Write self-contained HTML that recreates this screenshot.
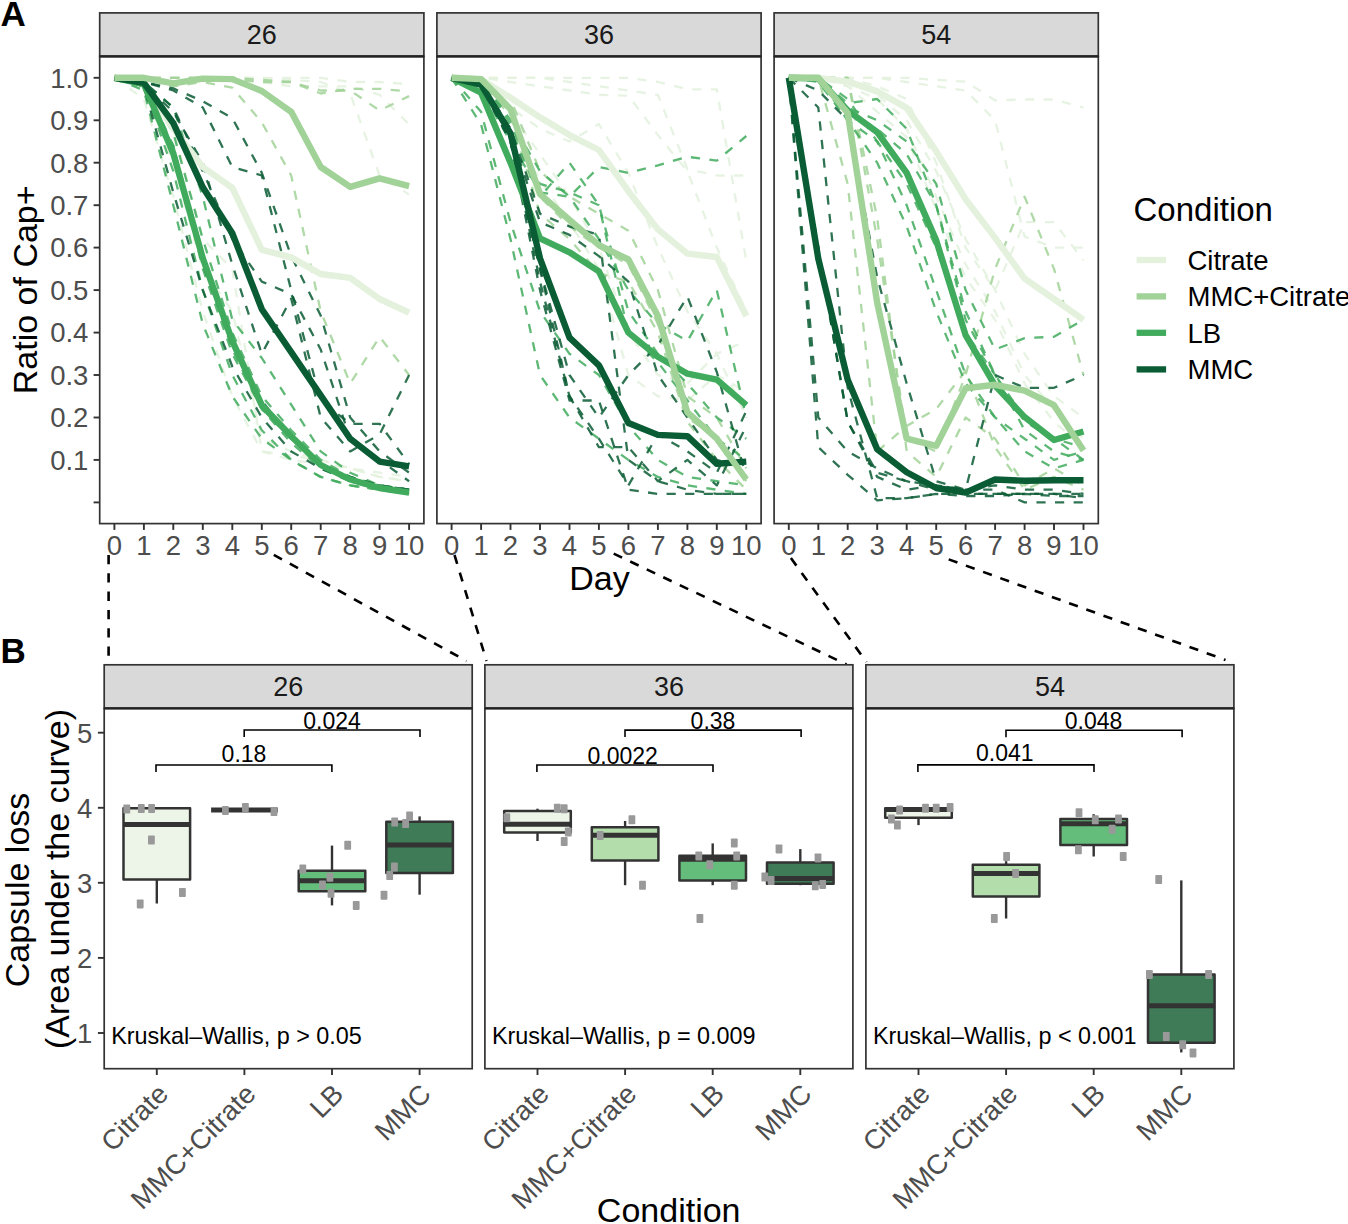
<!DOCTYPE html>
<html><head><meta charset="utf-8"><style>
html,body{margin:0;padding:0;background:#fff;}
svg{display:block;font-family:"Liberation Sans", sans-serif;}
</style></head><body>
<svg width="1348" height="1224" viewBox="0 0 1348 1224">
<rect width="1348" height="1224" fill="#fff"/>
<rect x="99.7" y="12.9" width="324.2" height="43.5" fill="#D9D9D9" stroke="#333" stroke-width="1.7"/>
<text x="261.8" y="44.3" font-size="27" text-anchor="middle" fill="#1A1A1A">26</text>
<clipPath id="ca0"><rect x="99.7" y="56.4" width="324.2" height="467.2"/></clipPath>
<g clip-path="url(#ca0)" fill="none" stroke-linejoin="round">
<polyline points="114.4,77.8 143.9,77.8 173.3,77.8 202.8,77.8 232.3,77.8 261.8,77.8 291.2,77.8 320.7,77.8 350.2,82.0 379.6,82.0 409.1,84.2" stroke="#E3F1DD" stroke-width="2.3" stroke-opacity="0.85" stroke-dasharray="9.2 9.4"/>
<polyline points="114.4,77.8 143.9,77.8 173.3,77.8 202.8,77.8 232.3,77.8 261.8,77.8 291.2,79.9 320.7,82.0 350.2,93.5 379.6,175.5 409.1,194.6" stroke="#E3F1DD" stroke-width="2.3" stroke-opacity="0.85" stroke-dasharray="9.2 9.4"/>
<polyline points="114.4,77.8 143.9,77.8 173.3,77.8 202.8,77.8 232.3,77.8 261.8,82.0 291.2,86.3 320.7,86.3 350.2,86.3 379.6,94.8 409.1,124.5" stroke="#E3F1DD" stroke-width="2.3" stroke-opacity="0.85" stroke-dasharray="9.2 9.4"/>
<polyline points="114.4,77.8 143.9,99.0 173.3,196.7 202.8,311.3 232.3,396.2 261.8,451.4 291.2,459.9 320.7,464.2 350.2,468.4 379.6,476.9 409.1,481.2" stroke="#E3F1DD" stroke-width="2.3" stroke-opacity="0.85" stroke-dasharray="9.2 9.4"/>
<polyline points="114.4,77.8 143.9,90.5 173.3,162.7 202.8,268.9 232.3,311.3 261.8,438.7 291.2,451.4 320.7,459.9 350.2,468.4 379.6,476.9 409.1,481.2" stroke="#E3F1DD" stroke-width="2.3" stroke-opacity="0.85" stroke-dasharray="9.2 9.4"/>
<polyline points="114.4,77.8 143.9,82.0 173.3,128.8 202.8,239.1 232.3,268.9 261.8,451.4 291.2,455.7 320.7,459.9 350.2,468.4 379.6,472.7 409.1,476.9" stroke="#E3F1DD" stroke-width="2.3" stroke-opacity="0.85" stroke-dasharray="9.2 9.4"/>
<polyline points="114.4,77.8 143.9,77.8 173.3,77.8 202.8,77.8 232.3,79.9 261.8,82.0 291.2,82.0 320.7,93.5 350.2,88.8 379.6,88.8 409.1,91.4" stroke="#A1D298" stroke-width="2.3" stroke-opacity="0.85" stroke-dasharray="9.2 9.4"/>
<polyline points="114.4,77.8 143.9,77.8 173.3,77.8 202.8,77.8 232.3,77.8 261.8,79.9 291.2,82.0 320.7,90.5 350.2,90.5 379.6,110.5 409.1,96.1" stroke="#A1D298" stroke-width="2.3" stroke-opacity="0.85" stroke-dasharray="9.2 9.4"/>
<polyline points="114.4,77.8 143.9,77.8 173.3,86.3 202.8,82.0 232.3,87.6 261.8,122.4 291.2,175.5 320.7,311.3 350.2,383.5 379.6,336.8 409.1,375.0" stroke="#A1D298" stroke-width="2.3" stroke-opacity="0.85" stroke-dasharray="9.2 9.4"/>
<polyline points="114.4,77.8 143.9,90.5 173.3,205.2 202.8,324.1 232.3,396.2 261.8,438.7 291.2,459.9 320.7,476.9 350.2,485.4 379.6,489.7 409.1,493.9" stroke="#41AB5D" stroke-width="2.3" stroke-opacity="0.85" stroke-dasharray="9.2 9.4"/>
<polyline points="114.4,77.8 143.9,86.3 173.3,171.2 202.8,290.1 232.3,375.0 261.8,430.2 291.2,459.9 320.7,476.9 350.2,485.4 379.6,489.7 409.1,493.9" stroke="#41AB5D" stroke-width="2.3" stroke-opacity="0.85" stroke-dasharray="9.2 9.4"/>
<polyline points="114.4,77.8 143.9,82.0 173.3,145.7 202.8,260.4 232.3,349.5 261.8,409.0 291.2,443.0 320.7,468.4 350.2,481.2 379.6,489.7 409.1,493.9" stroke="#41AB5D" stroke-width="2.3" stroke-opacity="0.85" stroke-dasharray="9.2 9.4"/>
<polyline points="114.4,77.8 143.9,82.0 173.3,133.0 202.8,239.1 232.3,332.6 261.8,396.2 291.2,430.2 320.7,459.9 350.2,476.9 379.6,485.4 409.1,489.7" stroke="#41AB5D" stroke-width="2.3" stroke-opacity="0.85" stroke-dasharray="9.2 9.4"/>
<polyline points="114.4,77.8 143.9,82.0 173.3,107.5 202.8,196.7 232.3,319.8 261.8,358.0 291.2,404.7 320.7,451.4 350.2,472.7 379.6,485.4 409.1,489.7" stroke="#41AB5D" stroke-width="2.3" stroke-opacity="0.85" stroke-dasharray="9.2 9.4"/>
<polyline points="114.4,77.8 143.9,86.3 173.3,145.7 202.8,268.9 232.3,353.8 261.8,409.0 291.2,438.7 320.7,464.2 350.2,476.9 379.6,485.4 409.1,489.7" stroke="#41AB5D" stroke-width="2.3" stroke-opacity="0.85" stroke-dasharray="9.2 9.4"/>
<polyline points="114.4,77.8 143.9,82.0 173.3,88.4 202.8,101.2 232.3,118.1 261.8,172.9 291.2,256.1 320.7,315.6 350.2,417.5 379.6,451.4 409.1,472.7" stroke="#0A5C34" stroke-width="2.3" stroke-opacity="0.85" stroke-dasharray="9.2 9.4"/>
<polyline points="114.4,77.8 143.9,82.0 173.3,90.5 202.8,107.5 232.3,167.0 261.8,175.5 291.2,290.1 320.7,400.5 350.2,423.8 379.6,423.8 409.1,464.2" stroke="#0A5C34" stroke-width="2.3" stroke-opacity="0.85" stroke-dasharray="9.2 9.4"/>
<polyline points="114.4,77.8 143.9,84.2 173.3,111.8 202.8,162.7 232.3,264.6 261.8,353.8 291.2,298.6 320.7,417.5 350.2,451.4 379.6,434.5 409.1,375.0" stroke="#0A5C34" stroke-width="2.3" stroke-opacity="0.85" stroke-dasharray="9.2 9.4"/>
<polyline points="114.4,77.8 143.9,86.3 173.3,192.4 202.8,290.1 232.3,366.5 261.8,417.5 291.2,451.4 320.7,468.4 350.2,481.2 379.6,485.4 409.1,489.7" stroke="#0A5C34" stroke-width="2.3" stroke-opacity="0.85" stroke-dasharray="9.2 9.4"/>
<polyline points="114.4,77.8 143.9,86.3 173.3,150.0 202.8,264.6 232.3,345.3 261.8,400.5 291.2,438.7 320.7,464.2 350.2,476.9 379.6,485.4 409.1,489.7" stroke="#0A5C34" stroke-width="2.3" stroke-opacity="0.85" stroke-dasharray="9.2 9.4"/>
<polyline points="114.4,77.8 143.9,82.0 173.3,107.5 202.8,171.2 232.3,239.1 261.8,281.6 291.2,294.3 320.7,349.5 350.2,438.7 379.6,459.9 409.1,481.2" stroke="#0A5C34" stroke-width="2.3" stroke-opacity="0.85" stroke-dasharray="9.2 9.4"/>
<polyline points="114.4,77.8 143.9,82.0 173.3,128.8 202.8,167.0 232.3,187.8 261.8,249.8 291.2,257.4 320.7,274.0 350.2,277.8 379.6,299.0 409.1,312.6" stroke="#E3F1DD" stroke-width="6.4"/>
<polyline points="114.4,77.8 143.9,84.2 173.3,153.4 202.8,258.3 232.3,341.1 261.8,405.2 291.2,436.2 320.7,465.0 350.2,479.5 379.6,488.0 409.1,492.6" stroke="#41AB5D" stroke-width="6.4"/>
<polyline points="114.4,77.8 143.9,82.9 173.3,123.2 202.8,187.3 232.3,233.2 261.8,309.2 291.2,352.1 320.7,395.4 350.2,438.7 379.6,461.6 409.1,466.3" stroke="#0A5C34" stroke-width="6.4"/>
<polyline points="114.4,77.8 143.9,77.8 173.3,83.3 202.8,78.6 232.3,79.1 261.8,91.0 291.2,111.8 320.7,167.0 350.2,186.9 379.6,178.4 409.1,186.1" stroke="#A1D298" stroke-width="6.4"/>
</g>
<rect x="99.7" y="56.4" width="324.2" height="467.2" fill="none" stroke="#333" stroke-width="1.7"/>
<line x1="99.7" y1="56.4" x2="423.9" y2="56.4" stroke="#222" stroke-width="2.4"/>
<line x1="114.4" y1="523.6" x2="114.4" y2="529.9" stroke="#333" stroke-width="1.9"/>
<text x="114.4" y="554.6" font-size="27.5" text-anchor="middle" fill="#4D4D4D">0</text>
<line x1="143.9" y1="523.6" x2="143.9" y2="529.9" stroke="#333" stroke-width="1.9"/>
<text x="143.9" y="554.6" font-size="27.5" text-anchor="middle" fill="#4D4D4D">1</text>
<line x1="173.3" y1="523.6" x2="173.3" y2="529.9" stroke="#333" stroke-width="1.9"/>
<text x="173.3" y="554.6" font-size="27.5" text-anchor="middle" fill="#4D4D4D">2</text>
<line x1="202.8" y1="523.6" x2="202.8" y2="529.9" stroke="#333" stroke-width="1.9"/>
<text x="202.8" y="554.6" font-size="27.5" text-anchor="middle" fill="#4D4D4D">3</text>
<line x1="232.3" y1="523.6" x2="232.3" y2="529.9" stroke="#333" stroke-width="1.9"/>
<text x="232.3" y="554.6" font-size="27.5" text-anchor="middle" fill="#4D4D4D">4</text>
<line x1="261.8" y1="523.6" x2="261.8" y2="529.9" stroke="#333" stroke-width="1.9"/>
<text x="261.8" y="554.6" font-size="27.5" text-anchor="middle" fill="#4D4D4D">5</text>
<line x1="291.2" y1="523.6" x2="291.2" y2="529.9" stroke="#333" stroke-width="1.9"/>
<text x="291.2" y="554.6" font-size="27.5" text-anchor="middle" fill="#4D4D4D">6</text>
<line x1="320.7" y1="523.6" x2="320.7" y2="529.9" stroke="#333" stroke-width="1.9"/>
<text x="320.7" y="554.6" font-size="27.5" text-anchor="middle" fill="#4D4D4D">7</text>
<line x1="350.2" y1="523.6" x2="350.2" y2="529.9" stroke="#333" stroke-width="1.9"/>
<text x="350.2" y="554.6" font-size="27.5" text-anchor="middle" fill="#4D4D4D">8</text>
<line x1="379.6" y1="523.6" x2="379.6" y2="529.9" stroke="#333" stroke-width="1.9"/>
<text x="379.6" y="554.6" font-size="27.5" text-anchor="middle" fill="#4D4D4D">9</text>
<line x1="409.1" y1="523.6" x2="409.1" y2="529.9" stroke="#333" stroke-width="1.9"/>
<text x="409.1" y="554.6" font-size="27.5" text-anchor="middle" fill="#4D4D4D">10</text>
<rect x="436.9" y="12.9" width="324.2" height="43.5" fill="#D9D9D9" stroke="#333" stroke-width="1.7"/>
<text x="599.0" y="44.3" font-size="27" text-anchor="middle" fill="#1A1A1A">36</text>
<clipPath id="ca1"><rect x="436.9" y="56.4" width="324.2" height="467.2"/></clipPath>
<g clip-path="url(#ca1)" fill="none" stroke-linejoin="round">
<polyline points="451.6,77.8 481.1,77.8 510.5,77.8 540.0,77.8 569.5,77.8 598.9,77.8 628.4,77.8 657.9,82.0 687.4,89.3 716.8,89.3 746.3,261.2" stroke="#E3F1DD" stroke-width="2.3" stroke-opacity="0.85" stroke-dasharray="9.2 9.4"/>
<polyline points="451.6,77.8 481.1,77.8 510.5,82.0 540.0,86.3 569.5,90.5 598.9,94.8 628.4,95.6 657.9,135.1 687.4,171.2 716.8,247.6 746.3,311.3" stroke="#E3F1DD" stroke-width="2.3" stroke-opacity="0.85" stroke-dasharray="9.2 9.4"/>
<polyline points="451.6,77.8 481.1,77.8 510.5,77.8 540.0,77.8 569.5,82.0 598.9,86.3 628.4,90.5 657.9,94.8 687.4,169.1 716.8,175.5 746.3,175.5" stroke="#E3F1DD" stroke-width="2.3" stroke-opacity="0.85" stroke-dasharray="9.2 9.4"/>
<polyline points="451.6,77.8 481.1,82.0 510.5,107.5 540.0,128.8 569.5,141.5 598.9,124.1 628.4,172.9 657.9,247.6 687.4,311.3 716.8,353.8 746.3,417.5" stroke="#E3F1DD" stroke-width="2.3" stroke-opacity="0.85" stroke-dasharray="9.2 9.4"/>
<polyline points="451.6,77.8 481.1,77.8 510.5,111.8 540.0,154.2 569.5,196.7 598.9,247.6 628.4,332.6 657.9,375.0 687.4,383.5 716.8,353.8 746.3,341.1" stroke="#E3F1DD" stroke-width="2.3" stroke-opacity="0.85" stroke-dasharray="9.2 9.4"/>
<polyline points="451.6,77.8 481.1,82.0 510.5,128.8 540.0,179.7 569.5,222.2 598.9,268.9 628.4,375.0 657.9,396.2 687.4,400.5 716.8,375.0 746.3,392.0" stroke="#E3F1DD" stroke-width="2.3" stroke-opacity="0.85" stroke-dasharray="9.2 9.4"/>
<polyline points="451.6,77.8 481.1,77.8 510.5,99.0 540.0,171.2 569.5,196.7 598.9,213.7 628.4,230.7 657.9,290.1 687.4,396.2 716.8,417.5 746.3,468.4" stroke="#A1D298" stroke-width="2.3" stroke-opacity="0.85" stroke-dasharray="9.2 9.4"/>
<polyline points="451.6,77.8 481.1,77.8 510.5,111.8 540.0,196.7 569.5,226.4 598.9,247.6 628.4,264.6 657.9,324.1 687.4,417.5 716.8,438.7 746.3,481.2" stroke="#A1D298" stroke-width="2.3" stroke-opacity="0.85" stroke-dasharray="9.2 9.4"/>
<polyline points="451.6,77.8 481.1,82.0 510.5,116.0 540.0,213.7 569.5,239.1 598.9,273.1 628.4,281.6 657.9,332.6 687.4,421.7 716.8,459.9 746.3,489.7" stroke="#A1D298" stroke-width="2.3" stroke-opacity="0.85" stroke-dasharray="9.2 9.4"/>
<polyline points="451.6,77.8 481.1,90.5 510.5,141.5 540.0,192.4 569.5,196.7 598.9,167.0 628.4,172.9 657.9,165.3 687.4,156.8 716.8,160.6 746.3,136.0" stroke="#41AB5D" stroke-width="2.3" stroke-opacity="0.85" stroke-dasharray="9.2 9.4"/>
<polyline points="451.6,77.8 481.1,124.5 510.5,239.1 540.0,375.0 569.5,417.5 598.9,438.7 628.4,459.9 657.9,476.9 687.4,485.4 716.8,489.7 746.3,493.9" stroke="#41AB5D" stroke-width="2.3" stroke-opacity="0.85" stroke-dasharray="9.2 9.4"/>
<polyline points="451.6,77.8 481.1,111.8 510.5,222.2 540.0,311.3 569.5,353.8 598.9,375.0 628.4,426.0 657.9,459.9 687.4,476.9 716.8,481.2 746.3,485.4" stroke="#41AB5D" stroke-width="2.3" stroke-opacity="0.85" stroke-dasharray="9.2 9.4"/>
<polyline points="451.6,77.8 481.1,77.8 510.5,120.3 540.0,171.2 569.5,196.7 598.9,239.1 628.4,290.1 657.9,324.1 687.4,341.1 716.8,290.1 746.3,417.5" stroke="#41AB5D" stroke-width="2.3" stroke-opacity="0.85" stroke-dasharray="9.2 9.4"/>
<polyline points="451.6,77.8 481.1,82.0 510.5,128.8 540.0,196.7 569.5,162.7 598.9,205.2 628.4,311.3 657.9,353.8 687.4,383.5 716.8,417.5 746.3,438.7" stroke="#41AB5D" stroke-width="2.3" stroke-opacity="0.85" stroke-dasharray="9.2 9.4"/>
<polyline points="451.6,77.8 481.1,77.8 510.5,124.5 540.0,183.9 569.5,192.4 598.9,205.2 628.4,332.6 657.9,362.3 687.4,400.5 716.8,438.7 746.3,459.9" stroke="#41AB5D" stroke-width="2.3" stroke-opacity="0.85" stroke-dasharray="9.2 9.4"/>
<polyline points="451.6,77.8 481.1,86.3 510.5,141.5 540.0,290.1 569.5,400.5 598.9,400.5 628.4,489.7 657.9,493.9 687.4,493.9 716.8,493.9 746.3,493.9" stroke="#0A5C34" stroke-width="2.3" stroke-opacity="0.85" stroke-dasharray="9.2 9.4"/>
<polyline points="451.6,77.8 481.1,86.3 510.5,133.0 540.0,268.9 569.5,375.0 598.9,417.5 628.4,375.0 657.9,345.3 687.4,296.5 716.8,372.0 746.3,476.9" stroke="#0A5C34" stroke-width="2.3" stroke-opacity="0.85" stroke-dasharray="9.2 9.4"/>
<polyline points="451.6,77.8 481.1,82.0 510.5,137.2 540.0,281.6 569.5,396.2 598.9,438.7 628.4,485.4 657.9,434.5 687.4,451.4 716.8,472.7 746.3,411.1" stroke="#0A5C34" stroke-width="2.3" stroke-opacity="0.85" stroke-dasharray="9.2 9.4"/>
<polyline points="451.6,77.8 481.1,86.3 510.5,141.5 540.0,268.9 569.5,396.2 598.9,447.2 628.4,447.2 657.9,481.2 687.4,459.9 716.8,485.4 746.3,426.0" stroke="#0A5C34" stroke-width="2.3" stroke-opacity="0.85" stroke-dasharray="9.2 9.4"/>
<polyline points="451.6,77.8 481.1,86.3 510.5,133.0 540.0,222.2 569.5,234.9 598.9,256.1 628.4,281.6 657.9,375.0 687.4,417.5 716.8,459.9 746.3,468.4" stroke="#0A5C34" stroke-width="2.3" stroke-opacity="0.85" stroke-dasharray="9.2 9.4"/>
<polyline points="451.6,77.8 481.1,82.0 510.5,128.8 540.0,213.7 569.5,226.4 598.9,234.9 628.4,459.9 657.9,481.2 687.4,489.7 716.8,493.9 746.3,493.9" stroke="#0A5C34" stroke-width="2.3" stroke-opacity="0.85" stroke-dasharray="9.2 9.4"/>
<polyline points="451.6,77.8 481.1,79.1 510.5,97.8 540.0,117.3 569.5,135.1 598.9,150.0 628.4,191.2 657.9,229.4 687.4,253.6 716.8,257.0 746.3,316.0" stroke="#E3F1DD" stroke-width="6.4"/>
<polyline points="451.6,77.8 481.1,92.7 510.5,162.7 540.0,238.3 569.5,252.3 598.9,271.4 628.4,332.6 657.9,356.8 687.4,373.7 716.8,379.7 746.3,405.2" stroke="#41AB5D" stroke-width="6.4"/>
<polyline points="451.6,77.8 481.1,84.6 510.5,133.4 540.0,258.3 569.5,337.7 598.9,365.3 628.4,423.0 657.9,434.9 687.4,436.2 716.8,463.8 746.3,461.6" stroke="#0A5C34" stroke-width="6.4"/>
<polyline points="451.6,77.8 481.1,79.1 510.5,109.2 540.0,194.1 569.5,220.0 598.9,245.1 628.4,259.5 657.9,316.0 687.4,412.4 716.8,438.7 746.3,479.5" stroke="#A1D298" stroke-width="6.4"/>
</g>
<rect x="436.9" y="56.4" width="324.2" height="467.2" fill="none" stroke="#333" stroke-width="1.7"/>
<line x1="436.9" y1="56.4" x2="761.1" y2="56.4" stroke="#222" stroke-width="2.4"/>
<line x1="451.6" y1="523.6" x2="451.6" y2="529.9" stroke="#333" stroke-width="1.9"/>
<text x="451.6" y="554.6" font-size="27.5" text-anchor="middle" fill="#4D4D4D">0</text>
<line x1="481.1" y1="523.6" x2="481.1" y2="529.9" stroke="#333" stroke-width="1.9"/>
<text x="481.1" y="554.6" font-size="27.5" text-anchor="middle" fill="#4D4D4D">1</text>
<line x1="510.5" y1="523.6" x2="510.5" y2="529.9" stroke="#333" stroke-width="1.9"/>
<text x="510.5" y="554.6" font-size="27.5" text-anchor="middle" fill="#4D4D4D">2</text>
<line x1="540.0" y1="523.6" x2="540.0" y2="529.9" stroke="#333" stroke-width="1.9"/>
<text x="540.0" y="554.6" font-size="27.5" text-anchor="middle" fill="#4D4D4D">3</text>
<line x1="569.5" y1="523.6" x2="569.5" y2="529.9" stroke="#333" stroke-width="1.9"/>
<text x="569.5" y="554.6" font-size="27.5" text-anchor="middle" fill="#4D4D4D">4</text>
<line x1="598.9" y1="523.6" x2="598.9" y2="529.9" stroke="#333" stroke-width="1.9"/>
<text x="598.9" y="554.6" font-size="27.5" text-anchor="middle" fill="#4D4D4D">5</text>
<line x1="628.4" y1="523.6" x2="628.4" y2="529.9" stroke="#333" stroke-width="1.9"/>
<text x="628.4" y="554.6" font-size="27.5" text-anchor="middle" fill="#4D4D4D">6</text>
<line x1="657.9" y1="523.6" x2="657.9" y2="529.9" stroke="#333" stroke-width="1.9"/>
<text x="657.9" y="554.6" font-size="27.5" text-anchor="middle" fill="#4D4D4D">7</text>
<line x1="687.4" y1="523.6" x2="687.4" y2="529.9" stroke="#333" stroke-width="1.9"/>
<text x="687.4" y="554.6" font-size="27.5" text-anchor="middle" fill="#4D4D4D">8</text>
<line x1="716.8" y1="523.6" x2="716.8" y2="529.9" stroke="#333" stroke-width="1.9"/>
<text x="716.8" y="554.6" font-size="27.5" text-anchor="middle" fill="#4D4D4D">9</text>
<line x1="746.3" y1="523.6" x2="746.3" y2="529.9" stroke="#333" stroke-width="1.9"/>
<text x="746.3" y="554.6" font-size="27.5" text-anchor="middle" fill="#4D4D4D">10</text>
<rect x="774.1" y="12.9" width="324.2" height="43.5" fill="#D9D9D9" stroke="#333" stroke-width="1.7"/>
<text x="936.2" y="44.3" font-size="27" text-anchor="middle" fill="#1A1A1A">54</text>
<clipPath id="ca2"><rect x="774.1" y="56.4" width="324.2" height="467.2"/></clipPath>
<g clip-path="url(#ca2)" fill="none" stroke-linejoin="round">
<polyline points="788.8,77.8 818.3,77.8 847.7,77.8 877.2,77.8 906.7,77.8 936.2,79.9 965.6,81.6 995.1,100.3 1024.6,99.5 1054.0,99.5 1083.5,107.5" stroke="#E3F1DD" stroke-width="2.3" stroke-opacity="0.85" stroke-dasharray="9.2 9.4"/>
<polyline points="788.8,77.8 818.3,77.8 847.7,77.8 877.2,77.8 906.7,82.0 936.2,86.3 965.6,90.5 995.1,120.3 1024.6,236.6 1054.0,247.6 1083.5,247.6" stroke="#E3F1DD" stroke-width="2.3" stroke-opacity="0.85" stroke-dasharray="9.2 9.4"/>
<polyline points="788.8,77.8 818.3,77.8 847.7,77.8 877.2,86.3 906.7,99.0 936.2,162.7 965.6,247.6 995.1,290.1 1024.6,222.2 1054.0,222.2 1083.5,260.4" stroke="#E3F1DD" stroke-width="2.3" stroke-opacity="0.85" stroke-dasharray="9.2 9.4"/>
<polyline points="788.8,77.8 818.3,77.8 847.7,82.0 877.2,94.8 906.7,120.3 936.2,171.2 965.6,239.1 995.1,290.1 1024.6,353.8 1054.0,396.2 1083.5,417.5" stroke="#E3F1DD" stroke-width="2.3" stroke-opacity="0.85" stroke-dasharray="9.2 9.4"/>
<polyline points="788.8,77.8 818.3,77.8 847.7,86.3 877.2,99.0 906.7,128.8 936.2,196.7 965.6,264.6 995.1,311.3 1024.6,375.0 1054.0,409.0 1083.5,438.7" stroke="#E3F1DD" stroke-width="2.3" stroke-opacity="0.85" stroke-dasharray="9.2 9.4"/>
<polyline points="788.8,77.8 818.3,77.8 847.7,86.3 877.2,111.8 906.7,137.2 936.2,209.4 965.6,277.4 995.1,319.8 1024.6,383.5 1054.0,421.7 1083.5,447.2" stroke="#E3F1DD" stroke-width="2.3" stroke-opacity="0.85" stroke-dasharray="9.2 9.4"/>
<polyline points="788.8,77.8 818.3,77.8 847.7,77.8 877.2,239.1 906.7,438.7 936.2,451.4 965.6,375.0 995.1,268.9 1024.6,196.7 1054.0,268.9 1083.5,375.0" stroke="#A1D298" stroke-width="2.3" stroke-opacity="0.85" stroke-dasharray="9.2 9.4"/>
<polyline points="788.8,77.8 818.3,77.8 847.7,77.8 877.2,217.9 906.7,451.4 936.2,476.9 965.6,417.5 995.1,438.7 1024.6,485.4 1054.0,468.4 1083.5,485.4" stroke="#A1D298" stroke-width="2.3" stroke-opacity="0.85" stroke-dasharray="9.2 9.4"/>
<polyline points="788.8,77.8 818.3,77.8 847.7,183.9 877.2,451.4 906.7,426.0 936.2,409.0 965.6,370.8 995.1,447.2 1024.6,489.7 1054.0,476.9 1083.5,489.7" stroke="#A1D298" stroke-width="2.3" stroke-opacity="0.85" stroke-dasharray="9.2 9.4"/>
<polyline points="788.8,77.8 818.3,77.8 847.7,99.0 877.2,141.5 906.7,205.2 936.2,290.1 965.6,375.0 995.1,417.5 1024.6,451.4 1054.0,468.4 1083.5,459.9" stroke="#41AB5D" stroke-width="2.3" stroke-opacity="0.85" stroke-dasharray="9.2 9.4"/>
<polyline points="788.8,77.8 818.3,77.8 847.7,120.3 877.2,162.7 906.7,226.4 936.2,311.3 965.6,383.5 995.1,417.5 1024.6,438.7 1054.0,459.9 1083.5,451.4" stroke="#41AB5D" stroke-width="2.3" stroke-opacity="0.85" stroke-dasharray="9.2 9.4"/>
<polyline points="788.8,77.8 818.3,77.8 847.7,107.5 877.2,120.3 906.7,141.5 936.2,183.9 965.6,290.1 995.1,349.5 1024.6,338.1 1054.0,336.8 1083.5,319.8" stroke="#41AB5D" stroke-width="2.3" stroke-opacity="0.85" stroke-dasharray="9.2 9.4"/>
<polyline points="788.8,77.8 818.3,77.8 847.7,111.8 877.2,128.8 906.7,154.2 936.2,205.2 965.6,311.3 995.1,375.0 1024.6,417.5 1054.0,438.7 1083.5,459.9" stroke="#41AB5D" stroke-width="2.3" stroke-opacity="0.85" stroke-dasharray="9.2 9.4"/>
<polyline points="788.8,77.8 818.3,82.0 847.7,120.3 877.2,141.5 906.7,183.9 936.2,247.6 965.6,332.6 995.1,375.0 1024.6,430.2 1054.0,451.4 1083.5,459.9" stroke="#41AB5D" stroke-width="2.3" stroke-opacity="0.85" stroke-dasharray="9.2 9.4"/>
<polyline points="788.8,77.8 818.3,77.8 847.7,103.3 877.2,99.0 906.7,128.8 936.2,205.2 965.6,319.8 995.1,375.0 1024.6,421.7 1054.0,438.7 1083.5,447.2" stroke="#41AB5D" stroke-width="2.3" stroke-opacity="0.85" stroke-dasharray="9.2 9.4"/>
<polyline points="788.8,77.8 818.3,417.5 847.7,451.4 877.2,468.4 906.7,481.2 936.2,489.7 965.6,493.9 995.1,493.9 1024.6,493.9 1054.0,493.9 1083.5,498.2" stroke="#0A5C34" stroke-width="2.3" stroke-opacity="0.85" stroke-dasharray="9.2 9.4"/>
<polyline points="788.8,77.8 818.3,447.2 847.7,474.8 877.2,500.3 906.7,498.2 936.2,493.9 965.6,496.0 995.1,496.0 1024.6,493.9 1054.0,496.0 1083.5,496.0" stroke="#0A5C34" stroke-width="2.3" stroke-opacity="0.85" stroke-dasharray="9.2 9.4"/>
<polyline points="788.8,77.8 818.3,107.5 847.7,387.8 877.2,498.2 906.7,498.2 936.2,493.9 965.6,493.9 995.1,493.9 1024.6,493.9 1054.0,493.9 1083.5,493.9" stroke="#0A5C34" stroke-width="2.3" stroke-opacity="0.85" stroke-dasharray="9.2 9.4"/>
<polyline points="788.8,77.8 818.3,90.5 847.7,120.3 877.2,277.4 906.7,383.5 936.2,481.2 965.6,489.7 995.1,375.0 1024.6,387.8 1054.0,387.8 1083.5,375.0" stroke="#0A5C34" stroke-width="2.3" stroke-opacity="0.85" stroke-dasharray="9.2 9.4"/>
<polyline points="788.8,77.8 818.3,247.6 847.7,421.7 877.2,472.7 906.7,481.2 936.2,485.4 965.6,489.7 995.1,485.4 1024.6,489.7 1054.0,489.7 1083.5,493.9" stroke="#0A5C34" stroke-width="2.3" stroke-opacity="0.85" stroke-dasharray="9.2 9.4"/>
<polyline points="788.8,77.8 818.3,247.6 847.7,421.7 877.2,476.9 906.7,489.7 936.2,485.4 965.6,489.7 995.1,489.7 1024.6,502.4 1054.0,502.4 1083.5,502.4" stroke="#0A5C34" stroke-width="2.3" stroke-opacity="0.85" stroke-dasharray="9.2 9.4"/>
<polyline points="788.8,77.8 818.3,77.8 847.7,81.6 877.2,91.4 906.7,107.9 936.2,151.3 965.6,199.2 995.1,237.9 1024.6,278.6 1054.0,299.0 1083.5,319.8" stroke="#E3F1DD" stroke-width="6.4"/>
<polyline points="788.8,77.8 818.3,78.6 847.7,110.5 877.2,132.1 906.7,172.9 936.2,240.4 965.6,335.1 995.1,385.6 1024.6,417.1 1054.0,440.0 1083.5,431.5" stroke="#41AB5D" stroke-width="6.4"/>
<polyline points="788.8,77.8 818.3,258.7 847.7,379.7 877.2,449.3 906.7,472.3 936.2,488.0 965.6,492.6 995.1,479.5 1024.6,480.7 1054.0,480.3 1083.5,480.3" stroke="#0A5C34" stroke-width="6.4"/>
<polyline points="788.8,77.8 818.3,77.8 847.7,113.0 877.2,302.8 906.7,438.7 936.2,445.9 965.6,388.2 995.1,384.8 1024.6,390.7 1054.0,405.2 1083.5,450.6" stroke="#A1D298" stroke-width="6.4"/>
</g>
<rect x="774.1" y="56.4" width="324.2" height="467.2" fill="none" stroke="#333" stroke-width="1.7"/>
<line x1="774.1" y1="56.4" x2="1098.3" y2="56.4" stroke="#222" stroke-width="2.4"/>
<line x1="788.8" y1="523.6" x2="788.8" y2="529.9" stroke="#333" stroke-width="1.9"/>
<text x="788.8" y="554.6" font-size="27.5" text-anchor="middle" fill="#4D4D4D">0</text>
<line x1="818.3" y1="523.6" x2="818.3" y2="529.9" stroke="#333" stroke-width="1.9"/>
<text x="818.3" y="554.6" font-size="27.5" text-anchor="middle" fill="#4D4D4D">1</text>
<line x1="847.7" y1="523.6" x2="847.7" y2="529.9" stroke="#333" stroke-width="1.9"/>
<text x="847.7" y="554.6" font-size="27.5" text-anchor="middle" fill="#4D4D4D">2</text>
<line x1="877.2" y1="523.6" x2="877.2" y2="529.9" stroke="#333" stroke-width="1.9"/>
<text x="877.2" y="554.6" font-size="27.5" text-anchor="middle" fill="#4D4D4D">3</text>
<line x1="906.7" y1="523.6" x2="906.7" y2="529.9" stroke="#333" stroke-width="1.9"/>
<text x="906.7" y="554.6" font-size="27.5" text-anchor="middle" fill="#4D4D4D">4</text>
<line x1="936.2" y1="523.6" x2="936.2" y2="529.9" stroke="#333" stroke-width="1.9"/>
<text x="936.2" y="554.6" font-size="27.5" text-anchor="middle" fill="#4D4D4D">5</text>
<line x1="965.6" y1="523.6" x2="965.6" y2="529.9" stroke="#333" stroke-width="1.9"/>
<text x="965.6" y="554.6" font-size="27.5" text-anchor="middle" fill="#4D4D4D">6</text>
<line x1="995.1" y1="523.6" x2="995.1" y2="529.9" stroke="#333" stroke-width="1.9"/>
<text x="995.1" y="554.6" font-size="27.5" text-anchor="middle" fill="#4D4D4D">7</text>
<line x1="1024.6" y1="523.6" x2="1024.6" y2="529.9" stroke="#333" stroke-width="1.9"/>
<text x="1024.6" y="554.6" font-size="27.5" text-anchor="middle" fill="#4D4D4D">8</text>
<line x1="1054.0" y1="523.6" x2="1054.0" y2="529.9" stroke="#333" stroke-width="1.9"/>
<text x="1054.0" y="554.6" font-size="27.5" text-anchor="middle" fill="#4D4D4D">9</text>
<line x1="1083.5" y1="523.6" x2="1083.5" y2="529.9" stroke="#333" stroke-width="1.9"/>
<text x="1083.5" y="554.6" font-size="27.5" text-anchor="middle" fill="#4D4D4D">10</text>
<line x1="93.6" y1="502.4" x2="99.7" y2="502.4" stroke="#333" stroke-width="1.9"/>
<line x1="93.6" y1="459.9" x2="99.7" y2="459.9" stroke="#333" stroke-width="1.9"/>
<text x="88.4" y="469.7" font-size="27.5" text-anchor="end" fill="#4D4D4D">0.1</text>
<line x1="93.6" y1="417.5" x2="99.7" y2="417.5" stroke="#333" stroke-width="1.9"/>
<text x="88.4" y="427.3" font-size="27.5" text-anchor="end" fill="#4D4D4D">0.2</text>
<line x1="93.6" y1="375.0" x2="99.7" y2="375.0" stroke="#333" stroke-width="1.9"/>
<text x="88.4" y="384.8" font-size="27.5" text-anchor="end" fill="#4D4D4D">0.3</text>
<line x1="93.6" y1="332.6" x2="99.7" y2="332.6" stroke="#333" stroke-width="1.9"/>
<text x="88.4" y="342.4" font-size="27.5" text-anchor="end" fill="#4D4D4D">0.4</text>
<line x1="93.6" y1="290.1" x2="99.7" y2="290.1" stroke="#333" stroke-width="1.9"/>
<text x="88.4" y="299.9" font-size="27.5" text-anchor="end" fill="#4D4D4D">0.5</text>
<line x1="93.6" y1="247.6" x2="99.7" y2="247.6" stroke="#333" stroke-width="1.9"/>
<text x="88.4" y="257.4" font-size="27.5" text-anchor="end" fill="#4D4D4D">0.6</text>
<line x1="93.6" y1="205.2" x2="99.7" y2="205.2" stroke="#333" stroke-width="1.9"/>
<text x="88.4" y="215.0" font-size="27.5" text-anchor="end" fill="#4D4D4D">0.7</text>
<line x1="93.6" y1="162.7" x2="99.7" y2="162.7" stroke="#333" stroke-width="1.9"/>
<text x="88.4" y="172.5" font-size="27.5" text-anchor="end" fill="#4D4D4D">0.8</text>
<line x1="93.6" y1="120.3" x2="99.7" y2="120.3" stroke="#333" stroke-width="1.9"/>
<text x="88.4" y="130.1" font-size="27.5" text-anchor="end" fill="#4D4D4D">0.9</text>
<line x1="93.6" y1="77.8" x2="99.7" y2="77.8" stroke="#333" stroke-width="1.9"/>
<text x="88.4" y="87.6" font-size="27.5" text-anchor="end" fill="#4D4D4D">1.0</text>
<text transform="translate(37.3,289.8) rotate(-90)" font-size="34" text-anchor="middle" fill="#000">Ratio of Cap+</text>
<text x="599.5" y="590.3" font-size="34" text-anchor="middle" fill="#000">Day</text>
<text x="1133.5" y="221" font-size="33" fill="#000">Condition</text>
<line x1="1136.6" y1="260" x2="1166.1" y2="260" stroke="#E3F1DD" stroke-width="6.3"/>
<text x="1187.5" y="269.9" font-size="27.5" fill="#000">Citrate</text>
<line x1="1136.6" y1="296.4" x2="1166.1" y2="296.4" stroke="#A1D298" stroke-width="6.3"/>
<text x="1187.5" y="306.3" font-size="27.5" fill="#000">MMC+Citrate</text>
<line x1="1136.6" y1="332.8" x2="1166.1" y2="332.8" stroke="#41AB5D" stroke-width="6.3"/>
<text x="1187.5" y="342.7" font-size="27.5" fill="#000">LB</text>
<line x1="1136.6" y1="369.4" x2="1166.1" y2="369.4" stroke="#0A5C34" stroke-width="6.3"/>
<text x="1187.5" y="379.3" font-size="27.5" fill="#000">MMC</text>
<text x="0.5" y="25.7" font-size="35" font-weight="bold" fill="#000">A</text>
<text x="0.5" y="662.6" font-size="35" font-weight="bold" fill="#000">B</text>
<line x1="108.6" y1="555" x2="108.6" y2="662" stroke="#000" stroke-width="2.6" stroke-dasharray="9.3 9"/>
<line x1="273.8" y1="554.9" x2="466.5" y2="661" stroke="#000" stroke-width="2.6" stroke-dasharray="9.3 9"/>
<line x1="454.5" y1="555" x2="486.5" y2="661" stroke="#000" stroke-width="2.6" stroke-dasharray="9.3 9"/>
<line x1="613.7" y1="553.6" x2="846.5" y2="664.5" stroke="#000" stroke-width="2.6" stroke-dasharray="9.3 9"/>
<line x1="790.9" y1="558.1" x2="866.5" y2="662" stroke="#000" stroke-width="2.6" stroke-dasharray="9.3 9"/>
<line x1="948.7" y1="559.4" x2="1225.5" y2="660" stroke="#000" stroke-width="2.6" stroke-dasharray="9.3 9"/>
<rect x="104.2" y="664.8" width="368.0" height="43.6" fill="#D9D9D9" stroke="#333" stroke-width="1.7"/>
<text x="288.2" y="696.4" font-size="27" text-anchor="middle" fill="#1A1A1A">26</text>
<rect x="104.2" y="708.4" width="368.0" height="360.3" fill="#fff" stroke="#333" stroke-width="1.7"/>
<line x1="104.2" y1="708.4" x2="472.2" y2="708.4" stroke="#222" stroke-width="2.4"/>
<line x1="156.8" y1="879.4" x2="156.8" y2="903.5" stroke="#333" stroke-width="2.4"/>
<rect x="123.5" y="808.3" width="66.6" height="71.1" fill="#ECF5E7" stroke="#333" stroke-width="2.5" stroke-linejoin="round"/>
<line x1="123.5" y1="824.4" x2="190.1" y2="824.4" stroke="#333" stroke-width="5.0" stroke-linecap="butt"/>
<rect x="211.1" y="810.1" width="66.6" height="0.0" fill="#B4DDAC" stroke="#333" stroke-width="2.5" stroke-linejoin="round"/>
<line x1="211.1" y1="810.1" x2="277.7" y2="810.1" stroke="#333" stroke-width="5.0" stroke-linecap="butt"/>
<line x1="332.0" y1="845.6" x2="332.0" y2="870.8" stroke="#333" stroke-width="2.4"/>
<line x1="332.0" y1="891.2" x2="332.0" y2="905.4" stroke="#333" stroke-width="2.4"/>
<rect x="298.7" y="870.8" width="66.6" height="20.4" fill="#64BD7A" stroke="#333" stroke-width="2.5" stroke-linejoin="round"/>
<line x1="298.7" y1="880.8" x2="365.3" y2="880.8" stroke="#333" stroke-width="5.0" stroke-linecap="butt"/>
<line x1="419.6" y1="816.4" x2="419.6" y2="821.7" stroke="#333" stroke-width="2.4"/>
<line x1="419.6" y1="872.9" x2="419.6" y2="894.7" stroke="#333" stroke-width="2.4"/>
<rect x="386.3" y="821.7" width="66.6" height="51.2" fill="#3F7B57" stroke="#333" stroke-width="2.5" stroke-linejoin="round"/>
<line x1="386.3" y1="844.9" x2="452.9" y2="844.9" stroke="#333" stroke-width="5.0" stroke-linecap="butt"/>
<rect x="123.4" y="804.5" width="6.8" height="9.0" fill="#999" rx="0.8"/>
<rect x="137.9" y="804.1" width="6.8" height="9.0" fill="#999" rx="0.8"/>
<rect x="148.2" y="804.1" width="6.8" height="9.0" fill="#999" rx="0.8"/>
<rect x="148.0" y="835.5" width="6.8" height="9.0" fill="#999" rx="0.8"/>
<rect x="136.8" y="899.4" width="6.8" height="9.0" fill="#999" rx="0.8"/>
<rect x="179.0" y="888.0" width="6.8" height="9.0" fill="#999" rx="0.8"/>
<rect x="222.0" y="805.9" width="6.8" height="9.0" fill="#999" rx="0.8"/>
<rect x="242.0" y="803.1" width="6.8" height="9.0" fill="#999" rx="0.8"/>
<rect x="270.6" y="807.0" width="6.8" height="9.0" fill="#999" rx="0.8"/>
<rect x="299.4" y="864.6" width="6.8" height="9.0" fill="#999" rx="0.8"/>
<rect x="326.5" y="872.7" width="6.8" height="9.0" fill="#999" rx="0.8"/>
<rect x="319.1" y="880.5" width="6.8" height="9.0" fill="#999" rx="0.8"/>
<rect x="327.6" y="888.8" width="6.8" height="9.0" fill="#999" rx="0.8"/>
<rect x="344.3" y="840.8" width="6.8" height="9.0" fill="#999" rx="0.8"/>
<rect x="352.8" y="900.9" width="6.8" height="9.0" fill="#999" rx="0.8"/>
<rect x="391.3" y="817.5" width="6.8" height="9.0" fill="#999" rx="0.8"/>
<rect x="402.2" y="819.0" width="6.8" height="9.0" fill="#999" rx="0.8"/>
<rect x="406.2" y="811.5" width="6.8" height="9.0" fill="#999" rx="0.8"/>
<rect x="391.0" y="862.5" width="6.8" height="9.0" fill="#999" rx="0.8"/>
<rect x="386.3" y="871.0" width="6.8" height="9.0" fill="#999" rx="0.8"/>
<rect x="380.6" y="890.7" width="6.8" height="9.0" fill="#999" rx="0.8"/>
<path d="M156.0,772.0 V765.0 H331.9 V772.0" fill="none" stroke="#000" stroke-width="1.6"/>
<text x="244.0" y="762.0" font-size="23" text-anchor="middle" fill="#000">0.18</text>
<path d="M244.2,737.0 V730.0 H420.0 V737.0" fill="none" stroke="#000" stroke-width="1.6"/>
<text x="332.0" y="728.6999999999999" font-size="23" text-anchor="middle" fill="#000">0.024</text>
<text x="111.2" y="1044.1" font-size="23.4" fill="#000">Kruskal–Wallis, p &gt; 0.05</text>
<line x1="156.8" y1="1068.7" x2="156.8" y2="1075.0" stroke="#333" stroke-width="1.9"/>
<text transform="translate(169.8,1095.7) rotate(-45)" font-size="27.5" text-anchor="end" fill="#4D4D4D">Citrate</text>
<line x1="244.4" y1="1068.7" x2="244.4" y2="1075.0" stroke="#333" stroke-width="1.9"/>
<text transform="translate(257.4,1095.7) rotate(-45)" font-size="27.5" text-anchor="end" fill="#4D4D4D">MMC+Citrate</text>
<line x1="332.0" y1="1068.7" x2="332.0" y2="1075.0" stroke="#333" stroke-width="1.9"/>
<text transform="translate(345.0,1095.7) rotate(-45)" font-size="27.5" text-anchor="end" fill="#4D4D4D">LB</text>
<line x1="419.6" y1="1068.7" x2="419.6" y2="1075.0" stroke="#333" stroke-width="1.9"/>
<text transform="translate(432.6,1095.7) rotate(-45)" font-size="27.5" text-anchor="end" fill="#4D4D4D">MMC</text>
<rect x="484.9" y="664.8" width="368.0" height="43.6" fill="#D9D9D9" stroke="#333" stroke-width="1.7"/>
<text x="668.9" y="696.4" font-size="27" text-anchor="middle" fill="#1A1A1A">36</text>
<rect x="484.9" y="708.4" width="368.0" height="360.3" fill="#fff" stroke="#333" stroke-width="1.7"/>
<line x1="484.9" y1="708.4" x2="852.9" y2="708.4" stroke="#222" stroke-width="2.4"/>
<line x1="537.5" y1="808.7" x2="537.5" y2="810.9" stroke="#333" stroke-width="2.4"/>
<line x1="537.5" y1="832.5" x2="537.5" y2="841.0" stroke="#333" stroke-width="2.4"/>
<rect x="504.2" y="810.9" width="66.6" height="21.6" fill="#ECF5E7" stroke="#333" stroke-width="2.5" stroke-linejoin="round"/>
<line x1="504.2" y1="824.3" x2="570.8" y2="824.3" stroke="#333" stroke-width="5.0" stroke-linecap="butt"/>
<line x1="625.1" y1="821.0" x2="625.1" y2="827.3" stroke="#333" stroke-width="2.4"/>
<line x1="625.1" y1="860.6" x2="625.1" y2="885.2" stroke="#333" stroke-width="2.4"/>
<rect x="591.8" y="827.3" width="66.6" height="33.3" fill="#B4DDAC" stroke="#333" stroke-width="2.5" stroke-linejoin="round"/>
<line x1="591.8" y1="835.2" x2="658.4" y2="835.2" stroke="#333" stroke-width="5.0" stroke-linecap="butt"/>
<line x1="712.7" y1="843.4" x2="712.7" y2="855.7" stroke="#333" stroke-width="2.4"/>
<line x1="712.7" y1="880.5" x2="712.7" y2="885.2" stroke="#333" stroke-width="2.4"/>
<rect x="679.4" y="855.7" width="66.6" height="24.8" fill="#64BD7A" stroke="#333" stroke-width="2.5" stroke-linejoin="round"/>
<line x1="679.4" y1="859.2" x2="746.0" y2="859.2" stroke="#333" stroke-width="5.0" stroke-linecap="butt"/>
<line x1="800.3" y1="849.1" x2="800.3" y2="862.5" stroke="#333" stroke-width="2.4"/>
<line x1="800.3" y1="883.8" x2="800.3" y2="885.2" stroke="#333" stroke-width="2.4"/>
<rect x="767.0" y="862.5" width="66.6" height="21.3" fill="#3F7B57" stroke="#333" stroke-width="2.5" stroke-linejoin="round"/>
<line x1="767.0" y1="878.4" x2="833.6" y2="878.4" stroke="#333" stroke-width="5.0" stroke-linecap="butt"/>
<rect x="553.9" y="803.7" width="6.8" height="9.0" fill="#999" rx="0.8"/>
<rect x="560.8" y="804.2" width="6.8" height="9.0" fill="#999" rx="0.8"/>
<rect x="503.4" y="813.2" width="6.8" height="9.0" fill="#999" rx="0.8"/>
<rect x="564.9" y="827.5" width="6.8" height="9.0" fill="#999" rx="0.8"/>
<rect x="560.8" y="837.0" width="6.8" height="9.0" fill="#999" rx="0.8"/>
<rect x="628.5" y="815.2" width="6.8" height="9.0" fill="#999" rx="0.8"/>
<rect x="596.8" y="831.0" width="6.8" height="9.0" fill="#999" rx="0.8"/>
<rect x="639.1" y="880.7" width="6.8" height="9.0" fill="#999" rx="0.8"/>
<rect x="695.4" y="851.5" width="6.8" height="9.0" fill="#999" rx="0.8"/>
<rect x="730.9" y="838.4" width="6.8" height="9.0" fill="#999" rx="0.8"/>
<rect x="733.3" y="851.5" width="6.8" height="9.0" fill="#999" rx="0.8"/>
<rect x="706.3" y="860.2" width="6.8" height="9.0" fill="#999" rx="0.8"/>
<rect x="730.9" y="880.7" width="6.8" height="9.0" fill="#999" rx="0.8"/>
<rect x="696.5" y="914.0" width="6.8" height="9.0" fill="#999" rx="0.8"/>
<rect x="775.6" y="844.4" width="6.8" height="9.0" fill="#999" rx="0.8"/>
<rect x="814.6" y="853.4" width="6.8" height="9.0" fill="#999" rx="0.8"/>
<rect x="761.4" y="872.5" width="6.8" height="9.0" fill="#999" rx="0.8"/>
<rect x="767.7" y="876.0" width="6.8" height="9.0" fill="#999" rx="0.8"/>
<rect x="811.9" y="881.2" width="6.8" height="9.0" fill="#999" rx="0.8"/>
<rect x="819.3" y="879.9" width="6.8" height="9.0" fill="#999" rx="0.8"/>
<path d="M536.9,772.0 V765.0 H713.0 V772.0" fill="none" stroke="#000" stroke-width="1.6"/>
<text x="622.7" y="764.3" font-size="23" text-anchor="middle" fill="#000">0.0022</text>
<path d="M625.0,737.1 V730.1 H801.1 V737.1" fill="none" stroke="#000" stroke-width="1.6"/>
<text x="713.0" y="728.5999999999999" font-size="23" text-anchor="middle" fill="#000">0.38</text>
<text x="491.9" y="1044.1" font-size="23.4" fill="#000">Kruskal–Wallis, p = 0.009</text>
<line x1="537.5" y1="1068.7" x2="537.5" y2="1075.0" stroke="#333" stroke-width="1.9"/>
<text transform="translate(550.5,1095.7) rotate(-45)" font-size="27.5" text-anchor="end" fill="#4D4D4D">Citrate</text>
<line x1="625.1" y1="1068.7" x2="625.1" y2="1075.0" stroke="#333" stroke-width="1.9"/>
<text transform="translate(638.1,1095.7) rotate(-45)" font-size="27.5" text-anchor="end" fill="#4D4D4D">MMC+Citrate</text>
<line x1="712.7" y1="1068.7" x2="712.7" y2="1075.0" stroke="#333" stroke-width="1.9"/>
<text transform="translate(725.7,1095.7) rotate(-45)" font-size="27.5" text-anchor="end" fill="#4D4D4D">LB</text>
<line x1="800.3" y1="1068.7" x2="800.3" y2="1075.0" stroke="#333" stroke-width="1.9"/>
<text transform="translate(813.3,1095.7) rotate(-45)" font-size="27.5" text-anchor="end" fill="#4D4D4D">MMC</text>
<rect x="865.9" y="664.8" width="368.0" height="43.6" fill="#D9D9D9" stroke="#333" stroke-width="1.7"/>
<text x="1049.9" y="696.4" font-size="27" text-anchor="middle" fill="#1A1A1A">54</text>
<rect x="865.9" y="708.4" width="368.0" height="360.3" fill="#fff" stroke="#333" stroke-width="1.7"/>
<line x1="865.9" y1="708.4" x2="1233.9" y2="708.4" stroke="#222" stroke-width="2.4"/>
<line x1="918.5" y1="817.7" x2="918.5" y2="825.1" stroke="#333" stroke-width="2.4"/>
<rect x="885.2" y="808.2" width="66.6" height="9.5" fill="#ECF5E7" stroke="#333" stroke-width="2.5" stroke-linejoin="round"/>
<line x1="885.2" y1="809.6" x2="951.8" y2="809.6" stroke="#333" stroke-width="5.0" stroke-linecap="butt"/>
<line x1="1006.1" y1="861.2" x2="1006.1" y2="864.7" stroke="#333" stroke-width="2.4"/>
<line x1="1006.1" y1="896.6" x2="1006.1" y2="918.5" stroke="#333" stroke-width="2.4"/>
<rect x="972.8" y="864.7" width="66.6" height="31.9" fill="#B4DDAC" stroke="#333" stroke-width="2.5" stroke-linejoin="round"/>
<line x1="972.8" y1="873.4" x2="1039.4" y2="873.4" stroke="#333" stroke-width="5.0" stroke-linecap="butt"/>
<line x1="1093.7" y1="814.2" x2="1093.7" y2="819.1" stroke="#333" stroke-width="2.4"/>
<line x1="1093.7" y1="845.0" x2="1093.7" y2="856.5" stroke="#333" stroke-width="2.4"/>
<rect x="1060.4" y="819.1" width="66.6" height="25.9" fill="#64BD7A" stroke="#333" stroke-width="2.5" stroke-linejoin="round"/>
<line x1="1060.4" y1="823.8" x2="1127.0" y2="823.8" stroke="#333" stroke-width="5.0" stroke-linecap="butt"/>
<line x1="1181.3" y1="880.4" x2="1181.3" y2="974.6" stroke="#333" stroke-width="2.4"/>
<line x1="1181.3" y1="1042.8" x2="1181.3" y2="1052.4" stroke="#333" stroke-width="2.4"/>
<rect x="1148.0" y="974.6" width="66.6" height="68.2" fill="#3F7B57" stroke="#333" stroke-width="2.5" stroke-linejoin="round"/>
<line x1="1148.0" y1="1005.7" x2="1214.6" y2="1005.7" stroke="#333" stroke-width="5.0" stroke-linecap="butt"/>
<rect x="896.2" y="805.6" width="6.8" height="9.0" fill="#999" rx="0.8"/>
<rect x="922.1" y="803.7" width="6.8" height="9.0" fill="#999" rx="0.8"/>
<rect x="932.8" y="803.7" width="6.8" height="9.0" fill="#999" rx="0.8"/>
<rect x="946.7" y="802.9" width="6.8" height="9.0" fill="#999" rx="0.8"/>
<rect x="888.0" y="814.6" width="6.8" height="9.0" fill="#999" rx="0.8"/>
<rect x="894.0" y="820.6" width="6.8" height="9.0" fill="#999" rx="0.8"/>
<rect x="1003.2" y="852.0" width="6.8" height="9.0" fill="#999" rx="0.8"/>
<rect x="1012.2" y="868.9" width="6.8" height="9.0" fill="#999" rx="0.8"/>
<rect x="990.9" y="914.0" width="6.8" height="9.0" fill="#999" rx="0.8"/>
<rect x="1075.6" y="808.3" width="6.8" height="9.0" fill="#999" rx="0.8"/>
<rect x="1091.9" y="815.2" width="6.8" height="9.0" fill="#999" rx="0.8"/>
<rect x="1115.1" y="814.6" width="6.8" height="9.0" fill="#999" rx="0.8"/>
<rect x="1108.8" y="824.7" width="6.8" height="9.0" fill="#999" rx="0.8"/>
<rect x="1075.0" y="845.2" width="6.8" height="9.0" fill="#999" rx="0.8"/>
<rect x="1119.8" y="852.0" width="6.8" height="9.0" fill="#999" rx="0.8"/>
<rect x="1155.3" y="875.1" width="6.8" height="9.0" fill="#999" rx="0.8"/>
<rect x="1146.0" y="970.1" width="6.8" height="9.0" fill="#999" rx="0.8"/>
<rect x="1205.2" y="970.1" width="6.8" height="9.0" fill="#999" rx="0.8"/>
<rect x="1162.9" y="1032.0" width="6.8" height="9.0" fill="#999" rx="0.8"/>
<rect x="1179.3" y="1040.2" width="6.8" height="9.0" fill="#999" rx="0.8"/>
<rect x="1189.6" y="1048.4" width="6.8" height="9.0" fill="#999" rx="0.8"/>
<path d="M917.9,771.9 V764.9 H1094.0 V771.9" fill="none" stroke="#000" stroke-width="1.6"/>
<text x="1004.8" y="761.4" font-size="23" text-anchor="middle" fill="#000">0.041</text>
<path d="M1006.0,737.2 V730.2 H1182.1 V737.2" fill="none" stroke="#000" stroke-width="1.6"/>
<text x="1093.6" y="728.5999999999999" font-size="23" text-anchor="middle" fill="#000">0.048</text>
<text x="872.9" y="1044.1" font-size="23.4" fill="#000">Kruskal–Wallis, p &lt; 0.001</text>
<line x1="918.5" y1="1068.7" x2="918.5" y2="1075.0" stroke="#333" stroke-width="1.9"/>
<text transform="translate(931.5,1095.7) rotate(-45)" font-size="27.5" text-anchor="end" fill="#4D4D4D">Citrate</text>
<line x1="1006.1" y1="1068.7" x2="1006.1" y2="1075.0" stroke="#333" stroke-width="1.9"/>
<text transform="translate(1019.1,1095.7) rotate(-45)" font-size="27.5" text-anchor="end" fill="#4D4D4D">MMC+Citrate</text>
<line x1="1093.7" y1="1068.7" x2="1093.7" y2="1075.0" stroke="#333" stroke-width="1.9"/>
<text transform="translate(1106.7,1095.7) rotate(-45)" font-size="27.5" text-anchor="end" fill="#4D4D4D">LB</text>
<line x1="1181.3" y1="1068.7" x2="1181.3" y2="1075.0" stroke="#333" stroke-width="1.9"/>
<text transform="translate(1194.3,1095.7) rotate(-45)" font-size="27.5" text-anchor="end" fill="#4D4D4D">MMC</text>
<line x1="97.9" y1="1033.0" x2="104.2" y2="1033.0" stroke="#333" stroke-width="1.9"/>
<text x="92.4" y="1042.8" font-size="27.5" text-anchor="end" fill="#4D4D4D">1</text>
<line x1="97.9" y1="957.9" x2="104.2" y2="957.9" stroke="#333" stroke-width="1.9"/>
<text x="92.4" y="967.7" font-size="27.5" text-anchor="end" fill="#4D4D4D">2</text>
<line x1="97.9" y1="882.8" x2="104.2" y2="882.8" stroke="#333" stroke-width="1.9"/>
<text x="92.4" y="892.6" font-size="27.5" text-anchor="end" fill="#4D4D4D">3</text>
<line x1="97.9" y1="807.8" x2="104.2" y2="807.8" stroke="#333" stroke-width="1.9"/>
<text x="92.4" y="817.6" font-size="27.5" text-anchor="end" fill="#4D4D4D">4</text>
<line x1="97.9" y1="732.7" x2="104.2" y2="732.7" stroke="#333" stroke-width="1.9"/>
<text x="92.4" y="742.5" font-size="27.5" text-anchor="end" fill="#4D4D4D">5</text>
<text transform="translate(29.4,890) rotate(-90)" font-size="34" text-anchor="middle" fill="#000">Capsule loss</text>
<text transform="translate(69.1,879) rotate(-90)" font-size="34" text-anchor="middle" fill="#000">(Area under the curve)</text>
<text x="668.7" y="1221.7" font-size="34" text-anchor="middle" fill="#000">Condition</text>
</svg>
</body></html>
